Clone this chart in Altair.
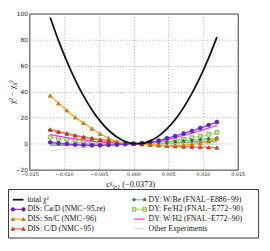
import altair as alt
import pandas as pd

# ---------------- data ----------------
x_vals = [-0.012, -0.0108, -0.0096, -0.0084, -0.0072, -0.006, -0.0048, -0.0036, -0.0024, -0.0012,
          0.0, 0.0012, 0.0024, 0.0036, 0.0048, 0.006, 0.0072, 0.0084, 0.0096, 0.0108, 0.012]

total = [97, 79.2, 63.3, 49.1, 36.7, 26.1, 17.3, 10.3, 5.1, 1.65, 0, 0.15, 2.1, 5.8, 11.3, 18.6, 27.7, 38.6, 51.3, 65.7, 82]
ca_d = [1, 0.3, -0.3, -0.8, -1.1, -1.3, -1.3, -1.1, -0.8, -0.4, 0, 0.3, 1.1, 2.4, 4.1, 5.9, 7.8, 9.8, 12, 14.3, 16.6]
sn_c = [37, 31, 25.6, 20.2, 15.9, 11.6, 7.6, 4.2, 1.6, 0.3, 0, -0.4, -0.8, -1.1, -1.3, -1.3, -1.1, -0.6, 0.3, 1.8, 4]
c_d = [11, 9.3, 7.8, 6.4, 5.1, 4, 3, 2, 1.2, 0.5, 0, -0.4, -0.9, -1.3, -1.7, -2, -2.3, -2.5, -2.7, -2.9, -3]
w_be = [10.3, 8.8, 7.4, 6.1, 5, 3.9, 2.9, 2, 1.2, 0.5, 0, 0.1, 0.3, 0.6, 1, 1.5, 2, 2.5, 3.1, 3.6, 4.2]
fe_h2 = [5, 4.1, 3.3, 2.6, 2, 1.4, 0.9, 0.5, 0.2, 0.05, 0, 0.1, 0.4, 0.9, 1.6, 2.5, 3.5, 4.6, 5.8, 7.1, 8.6]
w_h2 = [7, 5.8, 4.7, 3.7, 2.8, 2, 1.3, 0.8, 0.4, 0.1, 0, 0.2, 0.8, 1.8, 3.1, 4.6, 6.3, 8.1, 10, 12, 14]

other_1 = [-0.8, -0.7, -0.6, -0.5, -0.4, -0.3, -0.2, -0.1, -0.05, 0, 0, 0.1, 0.2, 0.35, 0.5, 0.7, 0.9, 1.1, 1.3, 1.5, 1.7]
other_2 = [-0.3, -0.35, -0.35, -0.3, -0.3, -0.25, -0.2, -0.15, -0.1, -0.05, 0, 0.1, 0.2, 0.3, 0.45, 0.6, 0.75, 0.9, 1.1, 1.3, 1.5]
other_3 = [-5.5, -4.8, -4.1, -3.5, -2.9, -2.3, -1.8, -1.3, -0.8, -0.4, 0, 0.4, 0.8, 1.1, 1.5, 1.8, 2.1, 2.4, 2.7, 3.0, 3.3]
other_4 = [1.5, 1.3, 1.1, 0.9, 0.7, 0.55, 0.4, 0.25, 0.15, 0.05, 0, 0, 0, -0.05, -0.1, -0.15, -0.2, -0.25, -0.3, -0.4, -0.5]
other_5 = [-1.5, -1.3, -1.1, -0.95, -0.8, -0.65, -0.5, -0.35, -0.2, -0.1, 0, 0.15, 0.3, 0.5, 0.7, 0.9, 1.1, 1.3, 1.6, 1.9, 2.2]

x_ticks = [-0.015, -0.010, -0.005, 0.0, 0.005, 0.010, 0.015]
y_ticks = [-20, 0, 20, 40, 60, 80, 100]

legend_labels = ["total  χ²", "DIS: Ca/D (NMC−95,re)", "DIS: Sn/C (NMC−96)", "DIS: C/D (NMC−95)",
                 "DY: W/Be (FNAL−E886−99)", "DY: Fe/H2 (FNAL−E772−90)", "DY: W/H2 (FNAL−E772−90)",
                 "Other Experiments"]

STAR = "M0,-1L0.22,-0.31L0.95,-0.31L0.36,0.12L0.59,0.81L0,0.38L-0.59,0.81L-0.36,0.12L-0.95,-0.31L-0.22,-0.31Z"

# name, values, line colour, line width, marker shape, marker fill, marker stroke
styles = [
    ("Other 1", other_1, "#c4c4c4", 1.0, None, None, None),
    ("Other 2", other_2, "#b0b0b0", 1.5, None, None, None),
    ("Other 3", other_3, "#d6d6d6", 1.0, None, None, None),
    ("Other 4", other_4, "#c4c4c4", 1.0, None, None, None),
    ("Other 5", other_5, "#a8a8a8", 1.5, None, None, None),
    ("DY: Fe/H2 (FNAL−E772−90)", fe_h2, "#b5e68a", 1.5, "square", "#c8e6a0", "#6b8e23"),
    ("DY: W/Be (FNAL−E886−99)", w_be, "#8fe08f", 2.0, STAR, "#2f5f2f", "#2f5f2f"),
    ("DY: W/H2 (FNAL−E772−90)", w_h2, "#ff33ff", 1.3, None, None, None),
    ("DIS: C/D (NMC−95)", c_d, "#ff6a50", 1.3, "triangle-up", "#d8351e", "#b02810"),
    ("DIS: Sn/C (NMC−96)", sn_c, "#ffaa10", 1.3, "triangle-up", "#c8871a", "#9a6510"),
    ("DIS: Ca/D (NMC−95,re)", ca_d, "#8a3df0", 1.3, "circle", "#5b25c8", "#4a1aa8"),
    ("total χ²", total, "#111111", 1.8, None, None, None),
]

xs = alt.Scale(domain=[-0.015, 0.015], nice=False, zero=False)
ys = alt.Scale(domain=[-20, 100], nice=False, zero=False)
x_axis = alt.Axis(values=x_ticks, format=".3f", title="cᵍ₀,₂ (−0.0373)", labelOverlap=False,
                  labelFontSize=5, labelPadding=2, labelFlush=False, titleY=14, titleX=104,
                  titleBaseline="middle")
y_axis = alt.Axis(values=y_ticks, title="χ² − χ₀²", labelOverlap=False, labelFontSize=6, labelPadding=2,
                  labelFlush=False, titleX=-18, titleY=80.5, titleAngle=270, titleBaseline="middle")

layers = []
for name, vals, lc, lw, shp, mf, ms in styles:
    df = pd.DataFrame({"x": x_vals, "y": vals, "series": name})
    xenc = alt.X("x:Q", scale=xs, axis=x_axis)
    yenc = alt.Y("y:Q", scale=ys, axis=y_axis)
    layers.append(alt.Chart(df).mark_line(color=lc, strokeWidth=lw, interpolate="monotone").encode(x=xenc, y=yenc))
    if shp:
        layers.append(alt.Chart(df).mark_point(shape=shp, filled=True, fill=mf, stroke=ms, strokeWidth=0.6,
                                               size=16, opacity=1).encode(x=xenc, y=yenc))

main = alt.layer(*layers)

# ---------------- legend (drawn through its own scales) ----------------
leg_col = [0, 0, 0, 0, 1, 1, 1, 1]
leg_row = [0, 1, 2, 3, 0, 1, 2, 3]
leg_color = ["#111111", "#8a3df0", "#ffaa10", "#ff6a50", "#8fe08f", "#b5e68a", "#ff33ff", "#dddddd"]
leg_width = [1.8, 1.3, 1.3, 1.3, 1.5, 1.5, 1.3, 1.3]
leg_shape = [None, "circle", "triangle-up", "triangle-up", STAR, "square", None, None]
leg_mfill = [None, "#5b25c8", "#c8871a", "#d8351e", "#2f5f2f", "#c8e6a0", None, None]
leg_mstroke = [None, "#4a1aa8", "#9a6510", "#b02810", "#2f5f2f", "#6b8e23", None, None]

ldf = pd.DataFrame({"col": leg_col, "row": leg_row, "label": legend_labels})
lx = alt.X("col:Q", scale=alt.Scale(domain=[0, 1], range=[-17, 108]), axis=None)
ly = alt.Y("row:Q", scale=alt.Scale(domain=[0, 3], range=[192, 222]), axis=None)

box = alt.Chart(pd.DataFrame({"a": [0]})).mark_rect(fill="white", stroke="#333333", strokeWidth=1).encode(
    x=alt.value(-21.5), x2=alt.value(236.5), y=alt.value(181.5), y2=alt.value(231.5))
leg_layers = [box]
for i in range(8):
    one = ldf.iloc[[i]]
    leg_layers.append(alt.Chart(one).mark_rule(color=leg_color[i], strokeWidth=leg_width[i], x2Offset=11).encode(
        x=lx, x2="col:Q", y=ly))
    if leg_shape[i]:
        for off in (0, 11):
            leg_layers.append(alt.Chart(one).mark_point(shape=leg_shape[i], filled=True, fill=leg_mfill[i],
                                                        stroke=leg_mstroke[i], strokeWidth=0.6, size=14,
                                                        opacity=1, xOffset=off).encode(x=lx, y=ly))
leg_layers.append(alt.Chart(ldf).mark_text(align="left", baseline="middle", dx=15, font="Liberation Serif",
                                           fontSize=8, color="#111111").encode(x=lx, y=ly, text="label:N"))
legend = alt.layer(*leg_layers)

chart = alt.layer(main, legend).resolve_scale(x="independent", y="independent").properties(
    width=215, height=161,
    autosize=alt.AutoSizeParams(type="none"),
    padding={"left": 22, "top": 2, "right": 25, "bottom": 75},
).configure_view(stroke="#333333", strokeWidth=1).configure_axis(
    grid=True, gridColor="#9a9a9a", gridDash=[1, 2], gridWidth=0.8,
    domain=False, ticks=False,
    labelFont="DejaVu Sans", labelColor="#222222",
    titleFont="Liberation Serif", titleFontWeight="normal", titleColor="#111111", titleFontSize=8.5,
)

chart.save("out.html", embed_options={"renderer": "svg", "actions": False})
